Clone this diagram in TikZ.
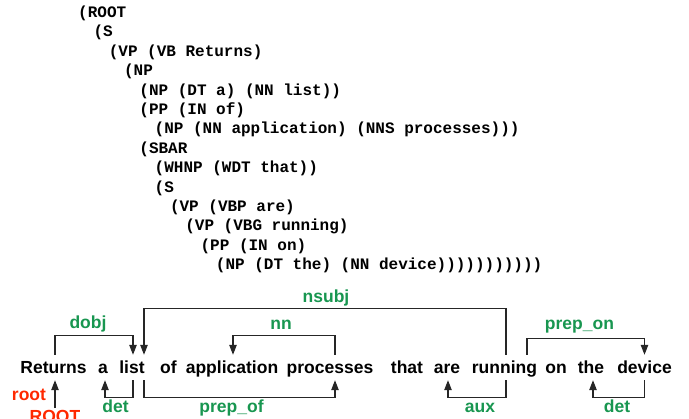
\documentclass[tikz,border=0pt]{standalone}
\usepackage{fontspec}
\setmainfont{Liberation Sans}
\newfontfamily\treefont{Liberation Mono}
\usetikzlibrary{arrows.meta}
\definecolor{labgreen}{RGB}{24,150,80}
\definecolor{rootred}{RGB}{255,40,0}
\tikzset{
  tree/.style={anchor=base west,inner sep=0pt,font=\treefont\bfseries\fontsize{16}{19}\selectfont},
  word/.style={anchor=base,inner xsep=0pt,inner ysep=5.5pt,text height=13pt,text depth=1pt,font=\bfseries\fontsize{17.5}{20}\selectfont},
  lab/.style={anchor=base,inner sep=0pt,text=labgreen,font=\bfseries\fontsize{17.5}{20}\selectfont},
  dep/.style={draw=black!85,line width=1.1pt,-{Triangle[width=7.5pt,length=10pt]}},
}
\begin{document}
\begin{tikzpicture}[x=1pt,y=-1pt]
\useasboundingbox (0,0) rectangle (689,419);
% parse tree
\foreach \d/\t [count=\i from 0] in {0/{(ROOT},1/{(S},2/{(VP (VB Returns)},3/{(NP},
  4/{(NP (DT a) (NN list))},4/{(PP (IN of)},5/{(NP (NN application) (NNS processes)))},
  4/{(SBAR},5/{(WHNP (WDT that))},5/{(S},6/{(VP (VBP are)},7/{(VP (VBG running)},
  8/{(PP (IN on)},9/{(NP (DT the) (NN device)))))))))))}}
  \node[tree] (t\i) at ({78+15.3*\d},{17.5+19.4*\i}) {\t};
% words
\node[word] (ret) at (53.5,373.5) {Returns};
\node[word] (a) at (103,373.5) {a};
\node[word] (list) at (132,373.5) {list};
\node[word] (of) at (168.5,373.5) {of};
\node[word] (app) at (232,373.5) {application};
\node[word] (proc) at (330,373.5) {processes};
\node[word] (that) at (407,373.5) {that};
\node[word] (are) at (447,373.5) {are};
\node[word] (run) at (504.5,373.5) {running};
\node[word] (on) at (556,373.5) {on};
\node[word] (the) at (591,373.5) {the};
\node[word] (dev) at (644.5,373.5) {device};
% dependencies above
\draw[dep] ([xshift=1.5pt]ret.north) -- ++(0,-19) -| ([xshift=1pt]list.north);
\draw[dep] ([xshift=1.5pt]run.north) -- ++(0,-46) -| ([xshift=12pt]list.north);
\draw[dep] ([xshift=5pt]proc.north) -- ++(0,-19) -| ([xshift=1pt]app.north);
\draw[dep] ([xshift=22.5pt]run.north) -- ++(0,-16) -| (dev.north);
% dependencies below
\draw[dep] ([xshift=1pt]list.south) -- ++(0,17) -| ([xshift=2pt]a.south);
\draw[dep] ([xshift=12pt]list.south) -- ++(0,17) -| ([xshift=5pt]proc.south);
\draw[dep] ([xshift=1.5pt]run.south) -- ++(0,17) -| ([xshift=1pt]are.south);
\draw[dep] (dev.south) -- ++(0,17) -| ([xshift=2pt]the.south);
\node[lab,text=rootred] (ROOT) at (55,422.5) {ROOT};
\draw[dep] ([yshift=2pt]ROOT.north) -- ([xshift=1.5pt]ret.south);
% labels
\node[lab] (l-dobj) at (88,329) {dobj};
\node[lab] (l-nsubj) at (326,303) {nsubj};
\node[lab] (l-nn) at (281,330) {nn};
\node[lab] (l-prepon) at (579.5,330) {prep\_on};
\node[lab,text=rootred] (l-root) at (29,401) {root};
\node[lab] (l-det) at (115.5,413) {det};
\node[lab] (l-prepof) at (231.5,413) {prep\_of};
\node[lab] (l-aux) at (480,413) {aux};
\node[lab] (l-det2) at (617,413) {det};
\end{tikzpicture}
\end{document}
